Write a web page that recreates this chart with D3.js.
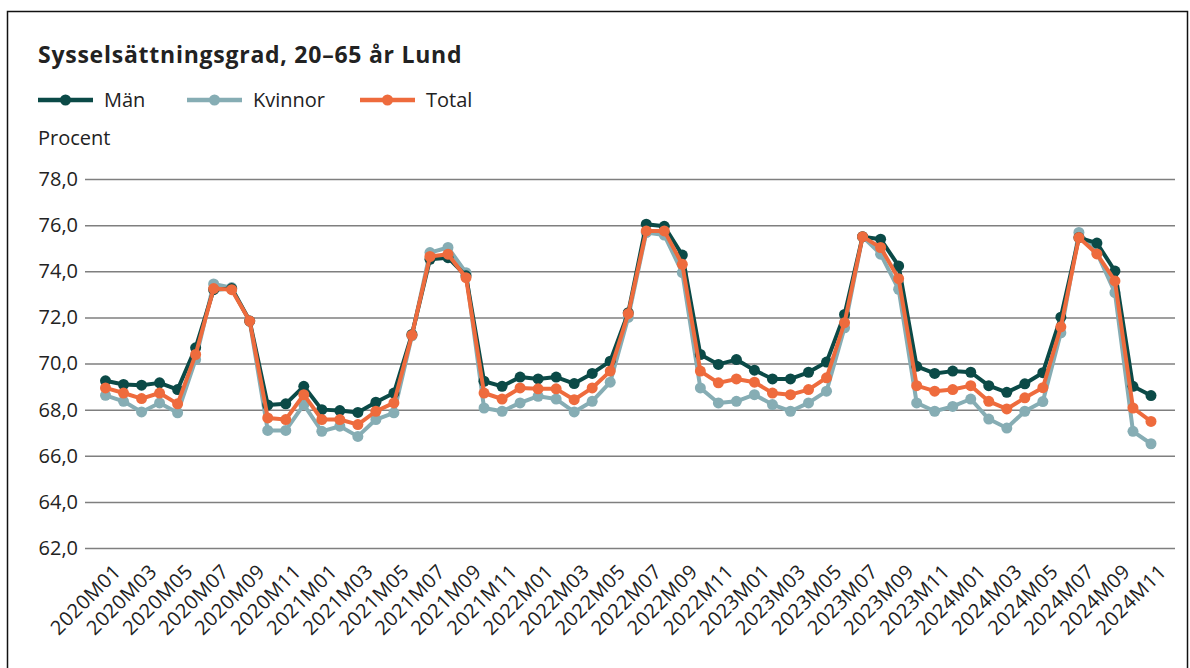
<!DOCTYPE html>
<html><head><meta charset="utf-8">
<script src="https://cdn.jsdelivr.net/npm/d3@7"></script>
<style>body{margin:0;background:#fff;}svg{display:block;font-family:"Open Sans","Noto Sans",sans-serif;}</style>
</head><body><svg id="c" width="1190" height="668"></svg>
<script>
const months = [];
for (let y = 2020; y <= 2024; y++) for (let m = 1; m <= 12; m++) { if (y === 2024 && m > 11) break; months.push(y + "M" + String(m).padStart(2, "0")); }
const man = [69.25,69.09,69.06,69.16,68.87,70.68,73.2,73.25,71.84,68.2,68.25,69.01,
68.0,67.96,67.88,68.32,68.72,71.26,74.52,74.59,73.8,69.23,69.01,69.41,
69.33,69.41,69.13,69.57,70.1,72.2,76.04,75.95,74.7,70.39,69.96,70.17,
69.71,69.33,69.33,69.62,70.06,72.13,75.5,75.39,74.23,69.88,69.57,69.67,
69.62,69.04,68.75,69.12,69.6,72.01,75.46,75.22,74.01,69.01,68.61];
const kvinnor = [68.62,68.36,67.9,68.29,67.86,70.17,73.45,73.29,71.84,67.1,67.1,68.22,
67.06,67.28,66.84,67.57,67.86,71.2,74.81,75.03,73.94,68.07,67.93,68.29,
68.58,68.46,67.9,68.36,69.19,72.0,75.68,75.57,73.94,68.94,68.29,68.36,
68.65,68.22,67.93,68.29,68.8,71.55,75.5,74.74,73.22,68.29,67.93,68.14,
68.46,67.59,67.2,67.93,68.35,71.33,75.68,74.8,73.07,67.06,66.52];
const total = [68.94,68.72,68.48,68.72,68.25,70.39,73.25,73.2,71.84,67.64,67.57,68.65,
67.57,67.57,67.35,67.93,68.29,71.23,74.64,74.74,73.72,68.72,68.46,68.94,
68.9,68.9,68.43,68.94,69.67,72.16,75.75,75.75,74.3,69.67,69.16,69.33,
69.19,68.72,68.65,68.87,69.38,71.77,75.5,75.03,73.68,69.04,68.8,68.87,
69.04,68.36,68.03,68.51,68.95,71.59,75.46,74.75,73.58,68.07,67.49];
const yTicks = [62,64,66,68,70,72,74,76,78];
const seriesNames = ["Män","Kvinnor","Total"];
const seriesColors = ["#0b4a47","#86adb4","#ee6b3d"];
const seriesData = [man, kvinnor, total];

const svg = d3.select("#c");
svg.append("rect").attr("x",7.5).attr("y",11.5).attr("width",1180).attr("height",700)
  .attr("fill","none").attr("stroke","#111").attr("stroke-width",1.5);

svg.append("text").attr("x",38).attr("y",63).attr("font-size",23).attr("font-weight",700)
  .attr("letter-spacing",0.75).attr("fill","#222").text("Sysselsättningsgrad, 20–65 år Lund");

// legend
const legX = [38,187,360];
seriesNames.forEach((n,i)=>{
  const g = svg.append("g").attr("transform",`translate(${legX[i]},100)`);
  g.append("line").attr("x1",0).attr("x2",55).attr("y1",0).attr("y2",0).attr("stroke",seriesColors[i]).attr("stroke-width",4.5);
  g.append("circle").attr("cx",27.5).attr("cy",0).attr("r",5.5).attr("fill",seriesColors[i]);
  g.append("text").attr("x",66).attr("y",7).attr("font-size",20).attr("fill","#222").text(n);
});
svg.append("text").attr("x",38).attr("y",145).attr("font-size",20).attr("fill","#222").text("Procent");

const x = d3.scalePoint().domain(months).range([105.5,1151]);
const y = d3.scaleLinear().domain([62,78]).range([548,179]);

const gy = svg.append("g").attr("transform","translate(85,0)")
  .call(d3.axisLeft(y).tickValues(yTicks).tickSize(-1090).tickPadding(7).tickFormat(d=>d3.format(".1f")(d).replace(".",",")));
gy.select(".domain").remove();
gy.selectAll(".tick line").attr("stroke","#7f7f7f").attr("stroke-width",1.5);
gy.selectAll(".tick text").attr("font-size",20).attr("fill","#222").attr("font-family","Open Sans, Noto Sans, sans-serif");

const gx = svg.append("g").attr("transform","translate(0,548)")
  .call(d3.axisBottom(x).tickValues(months.filter((d,i)=>i%2===0)).tickSize(0).tickPadding(0));
gx.select(".domain").remove();
gx.selectAll(".tick text").attr("font-size",20).attr("letter-spacing",0.4).attr("fill","#222").attr("font-family","Open Sans, Noto Sans, sans-serif")
  .attr("text-anchor","end").attr("dy",null).attr("y",0)
  .attr("transform","translate(16,25) rotate(-45)");

const line = d3.line().x((d,i)=>x(months[i])).y(d=>y(d));
[1,0,2].forEach(si=>{
  const g = svg.append("g");
  g.append("path").datum(seriesData[si]).attr("d",line).attr("fill","none")
    .attr("stroke",seriesColors[si]).attr("stroke-width",4).attr("stroke-linejoin","round");
  g.selectAll("circle").data(seriesData[si]).join("circle")
    .attr("cx",(d,i)=>x(months[i])).attr("cy",d=>y(d)).attr("r",5.5).attr("fill",seriesColors[si]);
});
</script></body></html>
